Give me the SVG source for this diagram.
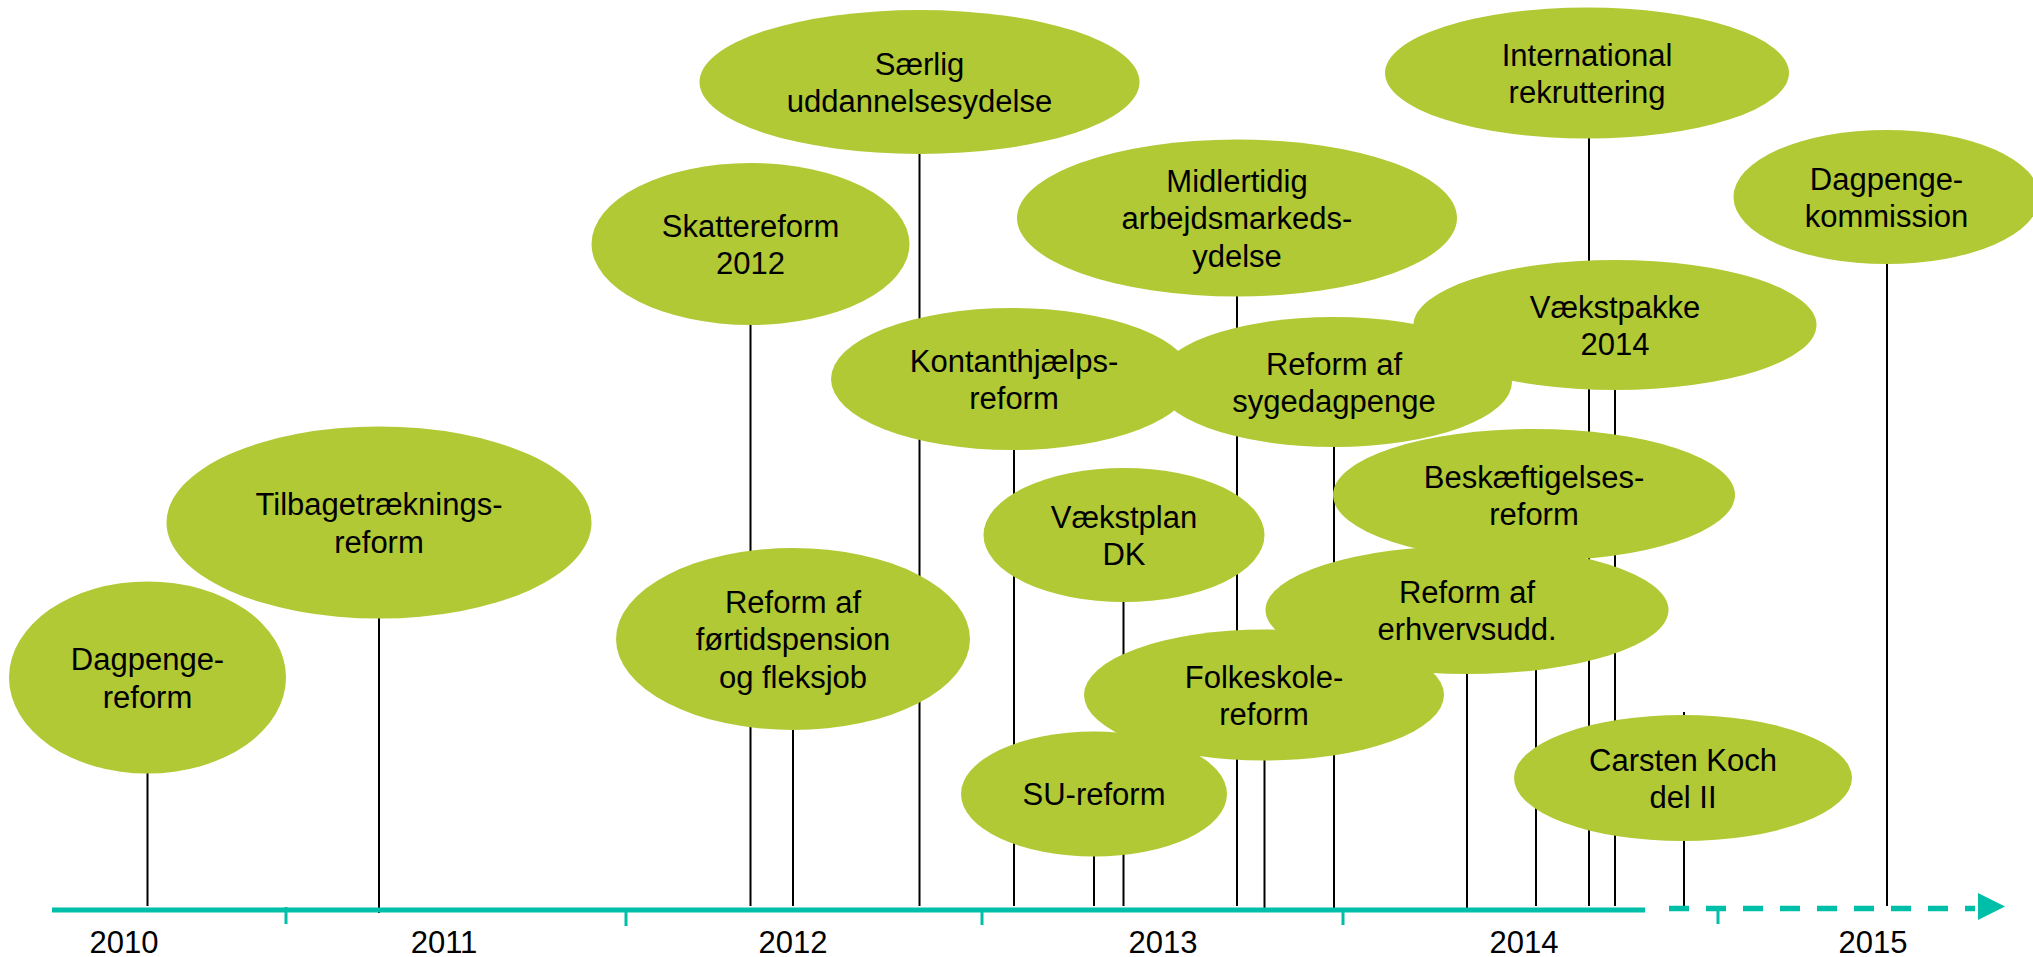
<svg xmlns="http://www.w3.org/2000/svg" width="2033" height="957" viewBox="0 0 2033 957">
<style>
.bub{fill:#B0C934;}
.lbl{font-family:"Liberation Sans",Arial,sans-serif;font-size:31px;fill:#000;text-anchor:middle;}
.yr{font-family:"Liberation Sans",Arial,sans-serif;font-size:31px;fill:#000;text-anchor:middle;}
.con line{stroke:#000;stroke-width:2;}
.axis{stroke:#00BFA9;fill:none;}
</style>
<rect width="2033" height="957" fill="#fff"/>
<g id="connectors" class="con">
<line x1="147.5" y1="773" x2="147.5" y2="906"/>
<line x1="379" y1="618" x2="379" y2="913"/>
<line x1="750.5" y1="325" x2="750.5" y2="906"/>
<line x1="793" y1="730" x2="793" y2="906"/>
<line x1="919.5" y1="154" x2="919.5" y2="906"/>
<line x1="1014" y1="450" x2="1014" y2="906"/>
<line x1="1094" y1="856" x2="1094" y2="906"/>
<line x1="1123.5" y1="602" x2="1123.5" y2="906"/>
<line x1="1237" y1="296" x2="1237" y2="906"/>
<line x1="1264.5" y1="760" x2="1264.5" y2="912"/>
<line x1="1334" y1="447" x2="1334" y2="909"/>
<line x1="1467" y1="674" x2="1467" y2="909"/>
<line x1="1536" y1="561" x2="1536" y2="906"/>
<line x1="1589" y1="138" x2="1589" y2="906"/>
<line x1="1615" y1="390" x2="1615" y2="906"/>
<line x1="1684" y1="712" x2="1684" y2="906"/>
<line x1="1887" y1="264" x2="1887" y2="906"/>
</g>
<g id="axis">
<line class="axis" x1="52" y1="910" x2="1645" y2="910" stroke-width="5"/>
<line class="axis" x1="1669" y1="908.5" x2="1975" y2="908.5" stroke-width="5.5" stroke-dasharray="20 17"/>
<polygon points="1978,893 2005,906.5 1978,920" fill="#00BFA9"/>
<g class="axis" stroke-width="3">
<line x1="286" y1="907" x2="286" y2="924"/>
<line x1="626" y1="910" x2="626" y2="926"/>
<line x1="982" y1="910" x2="982" y2="925"/>
<line x1="1343" y1="910" x2="1343" y2="925"/>
<line x1="1718" y1="909" x2="1718" y2="924"/>
</g>
<text class="yr" x="124" y="953">2010</text>
<text class="yr" x="444" y="953">2011</text>
<text class="yr" x="793" y="953">2012</text>
<text class="yr" x="1163" y="953">2013</text>
<text class="yr" x="1524" y="953">2014</text>
<text class="yr" x="1873" y="953">2015</text>
</g>
<g id="n-dagpenge-reform"><ellipse class="bub" cx="147.5" cy="677.5" rx="138.5" ry="96"/><text class="lbl" x="147.5" y="670">Dagpenge-</text><text class="lbl" x="147.5" y="707.5">reform</text></g>
<g id="n-tilbagetraekning"><ellipse class="bub" cx="379" cy="522.5" rx="212.5" ry="96"/><text class="lbl" x="379" y="515">Tilbagetræknings-</text><text class="lbl" x="379" y="552.5">reform</text></g>
<g id="n-skattereform"><ellipse class="bub" cx="750.5" cy="244" rx="159" ry="81"/><text class="lbl" x="750.5" y="236.5">Skattereform</text><text class="lbl" x="750.5" y="274">2012</text></g>
<g id="n-saerlig"><ellipse class="bub" cx="919.5" cy="82" rx="220" ry="72"/><text class="lbl" x="919.5" y="74.5">Særlig</text><text class="lbl" x="919.5" y="112">uddannelsesydelse</text></g>
<g id="n-fortidspension"><ellipse class="bub" cx="793" cy="639" rx="177" ry="91"/><text class="lbl" x="793" y="612.8">Reform af</text><text class="lbl" x="793" y="650.3">førtidspension</text><text class="lbl" x="793" y="687.8">og fleksjob</text></g>
<g id="n-midlertidig"><ellipse class="bub" cx="1237" cy="218" rx="220" ry="78.5"/><text class="lbl" x="1237" y="191.8">Midlertidig</text><text class="lbl" x="1237" y="229.3">arbejdsmarkeds-</text><text class="lbl" x="1237" y="266.8">ydelse</text></g>
<g id="n-international"><ellipse class="bub" cx="1587" cy="73" rx="202" ry="65.5"/><text class="lbl" x="1587" y="65.5">International</text><text class="lbl" x="1587" y="103">rekruttering</text></g>
<g id="n-dagpengekommission"><ellipse class="bub" cx="1886.5" cy="197" rx="153" ry="67"/><text class="lbl" x="1886.5" y="189.5">Dagpenge-</text><text class="lbl" x="1886.5" y="227">kommission</text></g>
<g id="n-vaekstpakke"><ellipse class="bub" cx="1615" cy="325" rx="201.5" ry="65"/><text class="lbl" x="1615" y="317.5">Vækstpakke</text><text class="lbl" x="1615" y="355">2014</text></g>
<g id="n-kontanthjaelp"><ellipse class="bub" cx="1012" cy="379" rx="181" ry="71"/><text class="lbl" x="1014" y="371.5">Kontanthjælps-</text><text class="lbl" x="1014" y="409">reform</text></g>
<g id="n-sygedagpenge"><ellipse class="bub" cx="1334" cy="382" rx="178" ry="65"/><text class="lbl" x="1334" y="374.5">Reform af</text><text class="lbl" x="1334" y="412">sygedagpenge</text></g>
<g id="n-beskaeftigelse"><ellipse class="bub" cx="1534" cy="495" rx="201" ry="66"/><text class="lbl" x="1534" y="487.5">Beskæftigelses-</text><text class="lbl" x="1534" y="525">reform</text></g>
<g id="n-vaekstplan"><ellipse class="bub" cx="1124" cy="535" rx="140.5" ry="67"/><text class="lbl" x="1124" y="527.5">Vækstplan</text><text class="lbl" x="1124" y="565">DK</text></g>
<g id="n-erhvervsudd"><ellipse class="bub" cx="1467" cy="610" rx="201.5" ry="64"/><text class="lbl" x="1467" y="602.5">Reform af</text><text class="lbl" x="1467" y="640">erhvervsudd.</text></g>
<g id="n-folkeskole"><ellipse class="bub" cx="1264" cy="695" rx="180" ry="65.5"/><text class="lbl" x="1264" y="687.5">Folkeskole-</text><text class="lbl" x="1264" y="725">reform</text></g>
<g id="n-su"><ellipse class="bub" cx="1094" cy="794" rx="133" ry="62.5"/><text class="lbl" x="1094" y="805.3">SU-reform</text></g>
<g id="n-carsten"><ellipse class="bub" cx="1683" cy="778" rx="169" ry="63"/><text class="lbl" x="1683" y="770.5">Carsten Koch</text><text class="lbl" x="1683" y="808">del II</text></g>
</svg>
